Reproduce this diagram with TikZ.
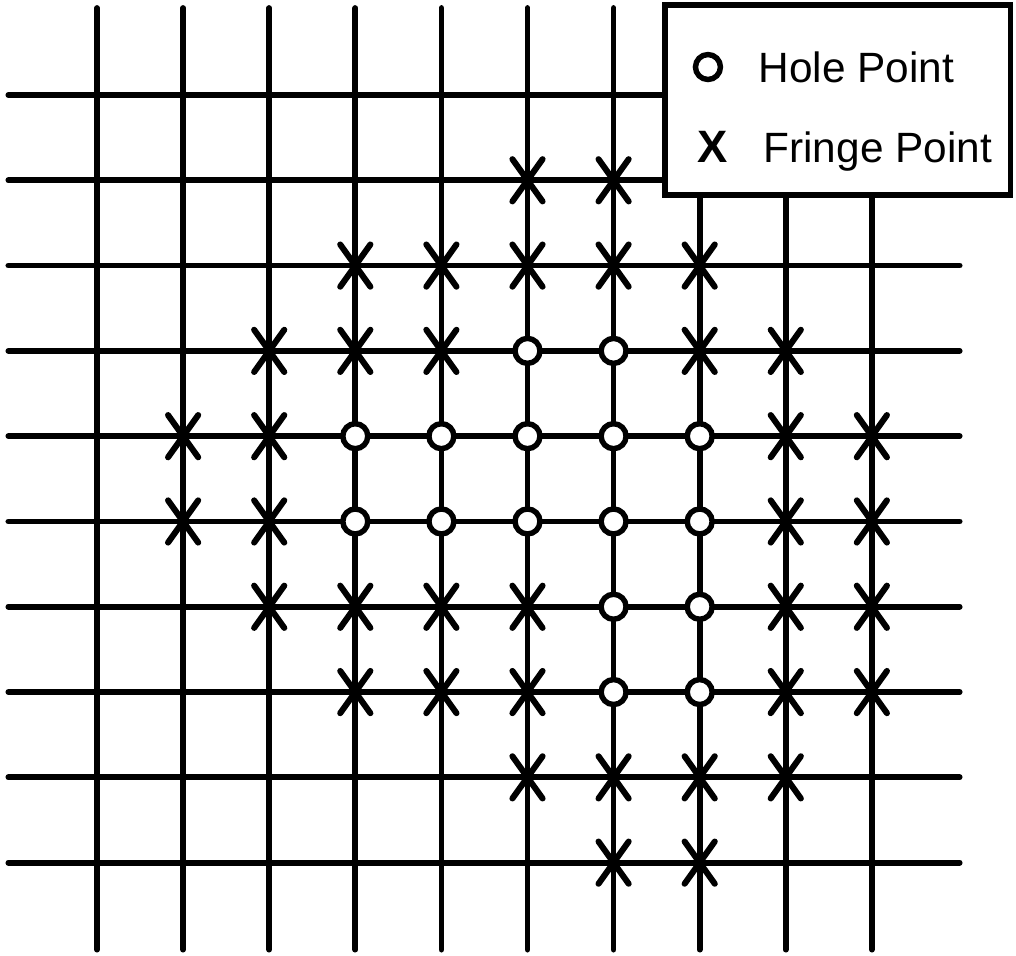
\documentclass[tikz,border=0pt]{standalone}
\usepackage{fontspec}
\setmainfont{Liberation Sans}
\usetikzlibrary{shapes.misc}

\begin{document}
\begin{tikzpicture}[x={(1cm,0cm)},y={(0cm,-0.9907cm)},
  gridline/.style={line width=1.9pt, line cap=round},
  hole/.style={circle, draw, fill=white, line width=1.8pt, minimum size=0.29cm, inner sep=0pt},
  fringe/.style={cross out, draw, line width=2pt, line cap=round, minimum width=0.28cm, minimum height=0.42cm, inner sep=0pt},
  legendtext/.style={anchor=base west, inner sep=0pt, font=\fontsize{14}{16}\selectfont}]
\useasboundingbox (-1.127,-1.114) rectangle (10.674,10.094);

\foreach \r in {0,...,9} \draw[gridline] (-1.03,\r) -- (10.02,\r);
\foreach \c in {0,...,9} \draw[gridline] (\c,-1.02) -- (\c,10.02);

% fringe points
\node[fringe] (f51) at (5,1) {};
\node[fringe] (f61) at (6,1) {};
\node[fringe] (f32) at (3,2) {};
\node[fringe] (f42) at (4,2) {};
\node[fringe] (f52) at (5,2) {};
\node[fringe] (f62) at (6,2) {};
\node[fringe] (f72) at (7,2) {};
\node[fringe] (f23) at (2,3) {};
\node[fringe] (f33) at (3,3) {};
\node[fringe] (f43) at (4,3) {};
\node[fringe] (f73) at (7,3) {};
\node[fringe] (f83) at (8,3) {};
\node[fringe] (f14) at (1,4) {};
\node[fringe] (f24) at (2,4) {};
\node[fringe] (f84) at (8,4) {};
\node[fringe] (f94) at (9,4) {};
\node[fringe] (f15) at (1,5) {};
\node[fringe] (f25) at (2,5) {};
\node[fringe] (f85) at (8,5) {};
\node[fringe] (f95) at (9,5) {};
\node[fringe] (f26) at (2,6) {};
\node[fringe] (f36) at (3,6) {};
\node[fringe] (f46) at (4,6) {};
\node[fringe] (f56) at (5,6) {};
\node[fringe] (f86) at (8,6) {};
\node[fringe] (f96) at (9,6) {};
\node[fringe] (f37) at (3,7) {};
\node[fringe] (f47) at (4,7) {};
\node[fringe] (f57) at (5,7) {};
\node[fringe] (f87) at (8,7) {};
\node[fringe] (f97) at (9,7) {};
\node[fringe] (f58) at (5,8) {};
\node[fringe] (f68) at (6,8) {};
\node[fringe] (f78) at (7,8) {};
\node[fringe] (f88) at (8,8) {};
\node[fringe] (f69) at (6,9) {};
\node[fringe] (f79) at (7,9) {};

% hole points
\node[hole] (h53) at (5,3) {};
\node[hole] (h63) at (6,3) {};
\node[hole] (h34) at (3,4) {};
\node[hole] (h44) at (4,4) {};
\node[hole] (h54) at (5,4) {};
\node[hole] (h64) at (6,4) {};
\node[hole] (h74) at (7,4) {};
\node[hole] (h35) at (3,5) {};
\node[hole] (h45) at (4,5) {};
\node[hole] (h55) at (5,5) {};
\node[hole] (h65) at (6,5) {};
\node[hole] (h75) at (7,5) {};
\node[hole] (h66) at (6,6) {};
\node[hole] (h76) at (7,6) {};
\node[hole] (h67) at (6,7) {};
\node[hole] (h77) at (7,7) {};

% legend
\draw[line width=1.7pt, fill=white] (6.597,-1.055) rectangle (10.615,1.172);
\node[hole] (keyhole) at (7.096,-0.328) {};
\node[legendtext] (holetext) at (7.677,-0.152) {Hole Point};
\node[legendtext, font=\fontsize{15}{16}\selectfont\bfseries] (keyfringe) at (6.969,0.797) {X};
\node[legendtext] (fringetext) at (7.735,0.797) {Fringe Point};
\end{tikzpicture}
\end{document}
